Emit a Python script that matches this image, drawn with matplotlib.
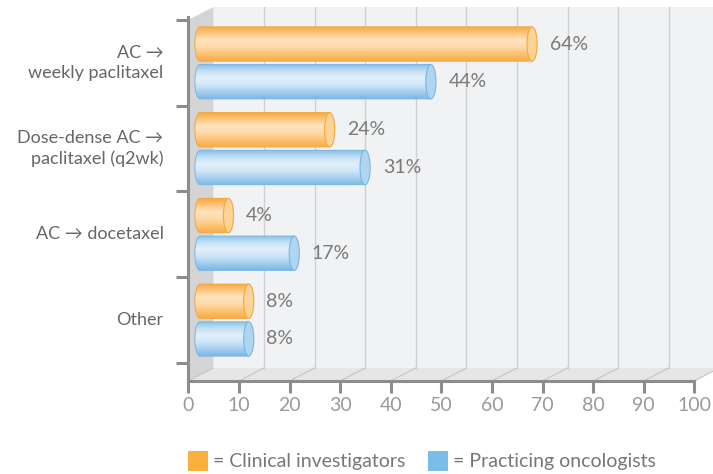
import numpy as np
import matplotlib
matplotlib.use('Agg')
import matplotlib.pyplot as plt
from matplotlib.patches import Polygon, Ellipse, Rectangle, PathPatch
from matplotlib.path import Path
from matplotlib.colors import LinearSegmentedColormap

# ---- data ----
categories = ["AC →\nweekly paclitaxel", "Dose-dense AC →\npaclitaxel (q2wk)",
              "AC → docetaxel", "Other"]
clinical = [64, 24, 4, 8]
practicing = [44, 31, 17, 8]
series_names = ["= Clinical investigators", "= Practicing oncologists"]
x_ticks = [0, 10, 20, 30, 40, 50, 60, 70, 80, 90, 100]

plt.rcParams['font.family'] = ['Lato', 'DejaVu Sans']

W, H = 713, 474
fig = plt.figure(figsize=(W / 100, H / 100), dpi=100)
ax = fig.add_axes([188.3 / W, (H - 381) / H, 506 / W, 364 / H])
ax.set_xlim(0, 100)
ax.set_ylim(0, 4.245)
ax.patch.set_visible(False)

DX = 25 / 5.06     # depth offset (data units)
DY = 13 / 85.75
TOP = 4.21

# walls
back = Rectangle((DX, DY), 110, TOP, facecolor='#f1f2f4', edgecolor='none', zorder=0, clip_on=False)
ax.add_patch(back)
side = Polygon([(0, 0), (0, TOP), (DX, TOP + DY), (DX, DY)], closed=True,
               facecolor='#d4d4d5', edgecolor='none', zorder=0.5, clip_on=False)
ax.add_patch(side)
floor = Polygon([(0, 0), (100, 0), (100 + DX, DY), (DX, DY)], closed=True,
                facecolor='#e6e6e8', edgecolor='none', zorder=0.5, clip_on=False)
ax.add_patch(floor)
for v in x_ticks:
    if v > 0:
        ax.plot([v + DX, v + DX], [DY, TOP + DY], color='#d0d0d2', lw=1.0, zorder=0.6, clip_on=False)
    ax.plot([v, v + DX], [0, DY], color='#c8c8ca', lw=0.9, zorder=0.6, clip_on=False)

# cylinders
orange_grad = ['#f7a93e', '#fcc67e', '#ffe3bf', '#fed9a8', '#fcc274', '#f9ad45']
blue_grad = ['#86c0e8', '#c4e0f4', '#e3f0fa', '#cfe6f6', '#a6cfee', '#7ab9e6']
TXT = dict(fontweight='normal')


def cylinder(value, yc, h, grad, cap_face, edge):
    rx = 1.0
    xs = 1.3
    xe = value + DX
    xc = xe - rx
    yt, yb = yc + h / 2, yc - h / 2
    t = np.linspace(1.5 * np.pi, 0.5 * np.pi, 40)
    left = np.column_stack([xs + rx + rx * np.cos(t), yc + h / 2 * np.sin(t)])
    pts = np.vstack([[[xs + rx, yt], [xc, yt], [xc, yb], [xs + rx, yb]], left[1:-1]])
    path = Path(np.vstack([pts, pts[:1]]), closed=True)
    clip = PathPatch(path, facecolor='none', edgecolor='none', zorder=2)
    ax.add_patch(clip)
    cmap = LinearSegmentedColormap.from_list('g', grad)
    g = cmap(np.linspace(0, 1, 64))[:, None, :3]
    im = ax.imshow(g, extent=(xs, xc + 0.01, yb, yt), aspect='auto', origin='upper',
                   zorder=2, interpolation='bilinear')
    im.set_clip_path(clip)
    outline = PathPatch(path, facecolor='none', edgecolor=edge, lw=0.7, zorder=2.1, clip_on=False)
    ax.add_patch(outline)
    cap = Ellipse((xc, yc), 2 * rx, h, facecolor=cap_face, edgecolor=edge, lw=0.8, zorder=2.2, clip_on=False)
    ax.add_patch(cap)
    ax.annotate(f"{value}%", (xe, yc), xytext=(9, 0), textcoords='offset points',
                ha='left', va='center', fontsize=14, color='#7a7a7a', **TXT)


n = len(categories)
bh = 0.40
for i in range(n):
    yc = (n - 1 - i) + 0.71
    cylinder(clinical[i], yc + 0.22, bh, orange_grad, '#fdd397', '#f5a73a')
    cylinder(practicing[i], yc - 0.22, bh, blue_grad, '#b0d5f0', '#78b6e3')

ax.set_xlim(0, 100)
ax.set_ylim(0, 4.245)

# axes styling
for s in ['top', 'right']:
    ax.spines[s].set_visible(False)
for s in ['left', 'bottom']:
    ax.spines[s].set_color('#8d8d8d')
    ax.spines[s].set_linewidth(2.2)
    ax.spines[s].set_zorder(3)
ax.spines['bottom'].set_bounds(0, 100)

ax.set_xticks(x_ticks)
ax.set_xticklabels([str(v) for v in x_ticks])
ax.tick_params(axis='x', length=8.5, width=2.2, color='#8d8d8d', labelsize=14,
               labelcolor='#9a9a9a', pad=3)

ax.set_yticks([i + 0.21 for i in range(n + 1)])
ax.set_yticklabels([])
ax.tick_params(axis='y', length=9, width=2.2, color='#8d8d8d')
for i, c in enumerate(categories):
    yc = (n - 1 - i) + 0.71
    ax.text(-4.9, yc, c, ha='right', va='center', fontsize=13, color='#666666',
            linespacing=1.3, multialignment='right', **TXT)

# legend
sq = 20
fig.patches.append(Rectangle((188 / W, (H - 471) / H), sq / W, sq / H, transform=fig.transFigure,
                             facecolor='#fbaf3f', edgecolor='none'))
fig.patches.append(Rectangle((428 / W, (H - 471) / H), sq / W, sq / H, transform=fig.transFigure,
                             facecolor='#79bde8', edgecolor='none'))
fig.text(213 / W, (H - 461) / H, series_names[0], ha='left', va='center', fontsize=14,
         color='#777777', **TXT)
fig.text(453 / W, (H - 461) / H, series_names[1], ha='left', va='center', fontsize=14,
         color='#777777', **TXT)

fig.savefig('out.png', dpi=100)
